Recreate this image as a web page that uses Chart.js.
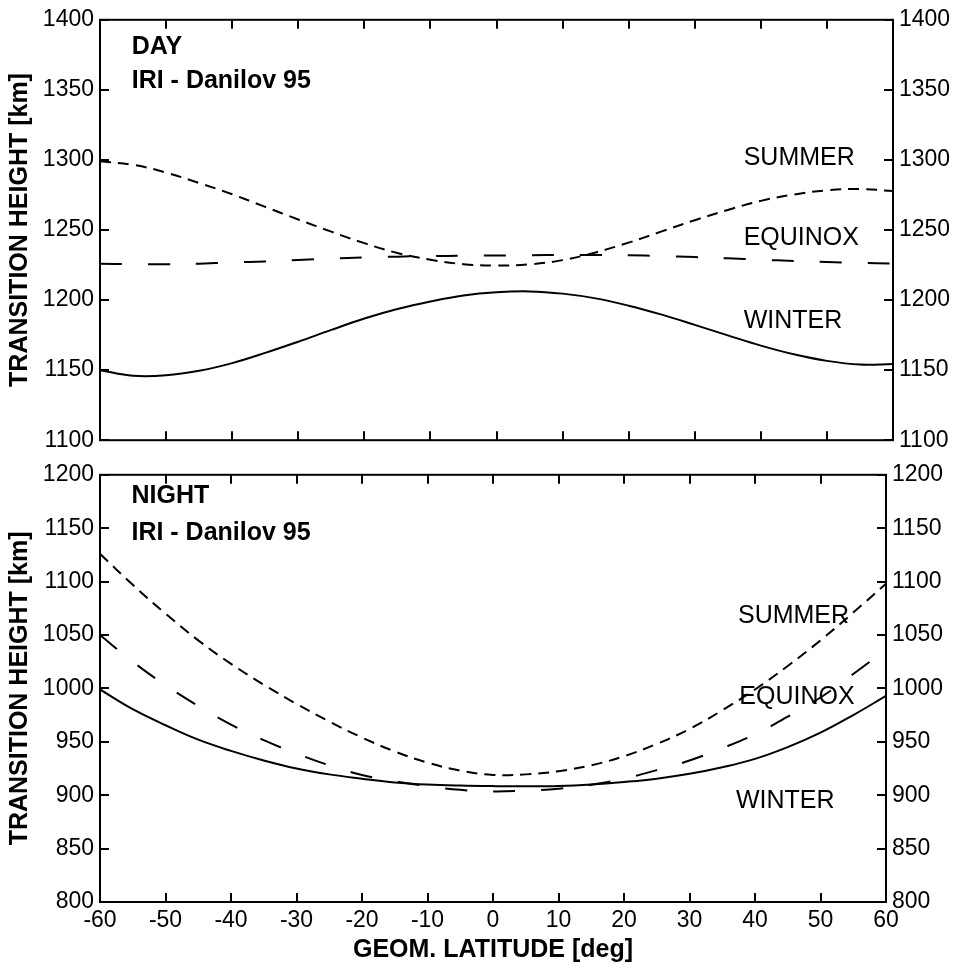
<!DOCTYPE html>
<html>
<head>
<meta charset="utf-8">
<script src="https://cdn.jsdelivr.net/npm/chart.js@4.4.1/dist/chart.umd.min.js"></script>
<style>
html, body { margin: 0; padding: 0; background: #fff; }
#wrap { position: relative; width: 958px; height: 965px; }
canvas { position: absolute; left: 0; }
#dayChart { top: 0; width: 958px; height: 460px; }
#nightChart { top: 455px; width: 958px; height: 510px; }
</style>
</head>
<body>
<div id="wrap">
<canvas id="dayChart" width="958" height="460"></canvas>
<canvas id="nightChart" width="958" height="510"></canvas>
</div>
<script>

// Data (km), every 5 deg of geomagnetic latitude
const latitudes = [-60,-55,-50,-45,-40,-35,-30,-25,-20,-15,-10,-5,0,5,10,15,20,25,30,35,40,45,50,55,60]

const daySummer  = [1299,1296.5,1291,1283.5,1275.5,1266.5,1257.5,1248.8,1240.6,1233.6,1228.8,1225.6,1224.6,1225.5,1228.5,1234,1241,1249,1257,1264.3,1270.8,1275.3,1278.3,1279.2,1277.8]
const dayEquinox = [1226,1225.6,1225.6,1226,1226.8,1227.6,1228.6,1229.6,1230.4,1231,1231.4,1231.6,1231.8,1232,1232.2,1232.2,1232,1231.4,1230.7,1229.8,1228.8,1227.9,1227.1,1226.5,1226]
const dayWinter  = [1150,1146,1146.3,1149.5,1155,1162.3,1170.3,1178.7,1186.8,1193.6,1199,1203.3,1205.6,1206.2,1204.6,1201.2,1196,1189.6,1182.3,1174.8,1167.5,1161.3,1156.6,1154,1154.4]

const nightSummer  = [1126,1097,1070,1045,1023,1003.5,985.5,969,954,941,930.5,923,919,919.5,922.5,928,936.5,948,962,979.5,999,1021,1045,1071,1098]
const nightEquinox = [1050,1025,1003,983.5,966,951.5,939,928,919,913,908.5,905,903.5,904.3,906,909.8,915.5,923.5,932.5,944,957,973.5,991.5,1013.5,1036.5]
const nightWinter  = [999,980.5,965.5,952,941.5,932.5,925,919.5,915.5,912,910,909,908.5,908.3,908.6,910,912.4,915.5,920,926.2,934,945,958.5,975,993]

// Tick labels
const latTicks = [-60,-50,-40,-30,-20,-10,0,10,20,30,40,50,60]
const dayTicks = [1100,1150,1200,1250,1300,1350,1400]
const nightTicks = [800,850,900,950,1000,1050,1100,1150,1200]

const FONT = "'Liberation Sans', Arial, Helvetica, sans-serif"
const TICK = 9


// 🔹 frame, inward ticks and text notes
const framePlugin = {
  id: "frame",
  afterDatasetsDraw(chart, args, opts) {
    const { ctx, chartArea: a, scales } = chart
    ctx.save()
    ctx.strokeStyle = "#000"
    ctx.lineWidth = 2
    ctx.strokeRect(a.left, a.top, a.right - a.left, a.bottom - a.top)

    ctx.beginPath()
    latTicks.forEach(v => {
      const x = Math.round(scales.x.getPixelForValue(v))
      ctx.moveTo(x, a.top); ctx.lineTo(x, a.top + TICK)
      ctx.moveTo(x, a.bottom); ctx.lineTo(x, a.bottom - TICK)
    })
    opts.yTicks.forEach(v => {
      const y = Math.round(scales.y.getPixelForValue(v))
      ctx.moveTo(a.left, y); ctx.lineTo(a.left + TICK, y)
      ctx.moveTo(a.right, y); ctx.lineTo(a.right - TICK, y)
    })
    ctx.stroke()

    ctx.fillStyle = "#000"
    ctx.textAlign = "left"
    ctx.textBaseline = "middle"
    opts.notes.forEach(n => {
      ctx.font = (n.bold ? "bold " : "") + "25px " + FONT
      ctx.fillText(n.text, scales.x.getPixelForValue(n.x), scales.y.getPixelForValue(n.y))
    })
    ctx.restore()
  }
}


function series(label, values, dash) {
  return {
    label: label,
    data: latitudes.map((x, i) => ({ x: x, y: values[i] })),
    borderColor: "#000",
    borderWidth: 2,
    borderDash: dash,
    pointRadius: 0,
    fill: false,
    tension: 0.4
  }
}


function yScale(cfg, side) {
  return {
    type: "linear",
    position: side,
    min: cfg.min,
    max: cfg.max,
    grid: { display: false, drawTicks: false },
    border: { display: false },
    afterBuildTicks: s => { s.ticks = cfg.yTicks.map(v => ({ value: v })) },
    afterFit: s => { s.width = side === "left" ? 100 : cfg.rightWidth },
    ticks: {
      autoSkip: false,
      padding: 6,
      color: "#000",
      font: { family: FONT, size: 23 },
      callback: v => String(v)
    },
    title: {
      display: side === "left",
      text: "TRANSITION HEIGHT [km]",
      color: "#000",
      font: { family: FONT, size: 25, weight: "bold" },
      padding: { top: 5, bottom: 0 }
    }
  }
}


function makeChart(canvas, cfg) {
  return new Chart(canvas, {
    type: "line",
    data: {
      datasets: [
        series("SUMMER", cfg.summer, [11, 7]),
        series("EQUINOX", cfg.equinox, [22, 26]),
        series("WINTER", cfg.winter, [])
      ]
    },
    options: {
      responsive: false,
      animation: false,
      devicePixelRatio: 1,
      layout: { padding: { top: cfg.padTop, bottom: cfg.padBottom, left: 0, right: 0 } },
      plugins: {
        legend: { display: false },
        tooltip: { enabled: false },
        frame: { yTicks: cfg.yTicks, notes: cfg.notes }
      },
      scales: {
        x: {
          type: "linear",
          min: -60,
          max: 60,
          grid: { display: false, drawTicks: false },
          border: { display: false },
          afterBuildTicks: s => { s.ticks = latTicks.map(v => ({ value: v })) },
          afterFit: s => { s.height = cfg.xHeight },
          ticks: {
            display: cfg.xLabels,
            autoSkip: false,
            maxRotation: 0,
            padding: 5,
            color: "#000",
            font: { family: FONT, size: 23 },
            callback: v => String(v)
          },
          title: {
            display: cfg.xLabels,
            text: "GEOM. LATITUDE [deg]",
            color: "#000",
            font: { family: FONT, size: 25, weight: "bold" },
            padding: { top: 0, bottom: 0 }
          }
        },
        y: yScale(cfg, "left"),
        y2: yScale(cfg, "right")
      }
    },
    plugins: [framePlugin]
  })
}


// 🔹 DAY panel
makeChart(document.getElementById("dayChart"), {
  summer: daySummer, equinox: dayEquinox, winter: dayWinter,
  min: 1100, max: 1400, yTicks: dayTicks,
  padTop: 14, padBottom: 15, xHeight: 0, xLabels: false, rightWidth: 65,
  notes: [
    { text: "DAY", x: -55.2, y: 1380.5, bold: true },
    { text: "IRI - Danilov 95", x: -55.2, y: 1356, bold: true },
    { text: "SUMMER", x: 37.4, y: 1301 },
    { text: "EQUINOX", x: 37.4, y: 1244.5 },
    { text: "WINTER", x: 37.4, y: 1185 }
  ]
})


// 🔹 NIGHT panel
makeChart(document.getElementById("nightChart"), {
  summer: nightSummer, equinox: nightEquinox, winter: nightWinter,
  min: 800, max: 1200, yTicks: nightTicks,
  padTop: 17, padBottom: 0, xHeight: 63, xLabels: true, rightWidth: 72,
  notes: [
    { text: "NIGHT", x: -55.2, y: 1180, bold: true },
    { text: "IRI - Danilov 95", x: -55.2, y: 1145.5, bold: true },
    { text: "SUMMER", x: 37.4, y: 1068 },
    { text: "EQUINOX", x: 37.6, y: 992 },
    { text: "WINTER", x: 37.1, y: 894 }
  ]
})

</script>
</body>
</html>
